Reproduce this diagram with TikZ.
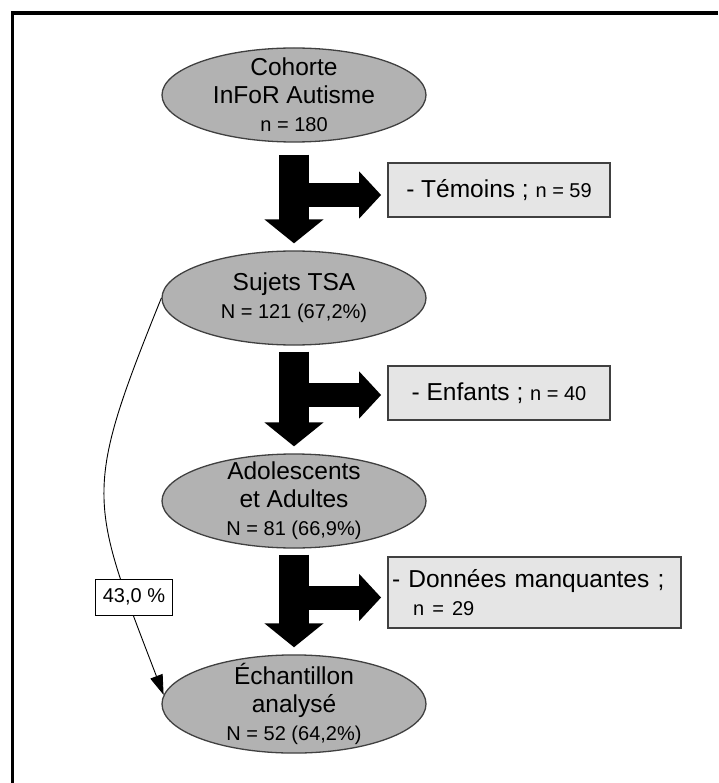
\documentclass[tikz,border=0pt]{standalone}
\usepackage{fontspec}
\setmainfont{Liberation Sans}
\usetikzlibrary{shapes,arrows.meta}

\newcommand{\petit}{\fontsize{20}{24}\selectfont}

\begin{document}
\begin{tikzpicture}[x=1pt,y=1pt,node distance=203pt,
    etape/.style={ellipse,draw=black!75,line width=1.3pt,fill=black!30,
                  minimum width=264pt,minimum height=94pt,inner sep=-6pt,
                  align=center,font=\fontsize{24.5}{28}\selectfont},
    exclu/.style={rectangle,draw=black!75,line width=1.8pt,fill=black!10,
                  minimum width=222pt,minimum height=54pt,
                  font=\fontsize{24.5}{28}\selectfont},
    bloc/.style={line width=30pt,-{Triangle[width=58pt,length=24pt]},
                 shorten <=6pt,shorten >=7pt},
    branche/.style={line width=24pt,-{Triangle[width=46pt,length=22pt]},
                    shorten >=6pt},
    taux/.style={draw,fill=white,line width=0.8pt,font=\petit,
                 inner xsep=7pt,minimum height=36pt}]

  \useasboundingbox (0,0) rectangle (718,-783);
  \draw[line width=3.5pt] (12.5,-783) -- (12.5,-13) -- (718,-13);

  \node[etape] (coh) at (294,-95) {Cohorte\\InFoR Autisme\\{\petit n = 180}};
  \node[etape] (tsa) [below of=coh] {Sujets TSA\\{\petit N = 121 (67,2\%)}};
  \node[etape] (ado) [below of=tsa] {Adolescents\\et Adultes\\{\petit N = 81 (66,9\%)}};
  \node[etape] (ech) [below of=ado] {Échantillon\\analysé\\{\petit N = 52 (64,2\%)}};

  \node[exclu] (tem) at (499,-190) {- Témoins ; {\petit n = 59}};
  \node[exclu] (enf) at (499,-393) {- Enfants ; {\petit n = 40}};
  \node[exclu,minimum width=293pt,minimum height=71pt,text width=285pt,
        inner xsep=4pt,align=left] (don) at (534.5,-592.5)
        {- Données manquantes ;\\\hspace*{21pt}{\petit n = 29}};

  % sorties de la cohorte
  \draw[bloc,shorten <=12pt] (coh) -- (tsa);
  \draw[bloc] (tsa) -- (ado);
  \draw[bloc] (ado) -- (ech);
  \draw[branche] ([yshift=-5pt]tem.west -| coh) -- ([yshift=-5pt]tem.west);
  \draw[branche] ([yshift=-2pt]enf.west -| tsa) -- ([yshift=-2pt]enf.west);
  \draw[branche] ([yshift=-5pt]don.west -| ado) -- ([yshift=-5pt]don.west);

  \path (tsa.west) edge [-{Triangle[width=13pt,length=20pt]},line width=0.9pt,
                         out=-112,in=111,looseness=1.35]
                   node [taux,pos=0.8,xshift=7pt] {43,0 \%} (ech.176);
\end{tikzpicture}
\end{document}
